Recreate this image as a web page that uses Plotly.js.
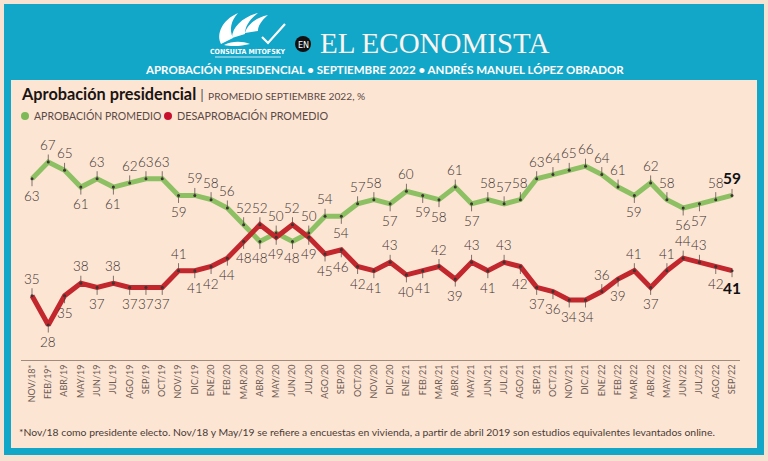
<!DOCTYPE html>
<html><head><meta charset="utf-8">
<script src="https://cdn.plot.ly/plotly-3.0.1.min.js"></script>
<style>html,body{margin:0;padding:0;background:#f7e2d2;}#chart{width:768px;height:461px;}</style>
</head><body><div id="chart"></div>
<script>
// ---- data ----
const months = ["NOV/18*","FEB/19*","ABR/19","MAY/19","JUN/19","JUL/19","AGO/19","SEP/19","OCT/19","NOV/19","DIC/19",
  "ENE/20","FEB/20","MAR/20","ABR/20","MAY/20","JUN/20","JUL/20","AGO/20","SEP/20","OCT/20","NOV/20","DIC/20",
  "ENE/21","FEB/21","MAR/21","ABR/21","MAY/21","JUN/21","JUL/21","AGO/21","SEP/21","OCT/21","NOV/21","DIC/21",
  "ENE/22","FEB/22","MAR/22","ABR/22","MAY/22","JUN/22","JUL/22","AGO/22","SEP/22"];
const aprobacion = [63,67,65,61,63,61,62,63,63,59,59,58,56,52,48,50,48,50,54,54,57,58,57,60,59,58,61,57,58,57,58,63,64,65,66,64,61,59,62,58,56,57,58,59];
const desaprobacion = [35,28,35,38,37,38,37,37,37,41,41,42,44,48,52,49,52,49,45,46,42,41,43,40,41,42,39,43,41,43,42,37,36,34,34,36,39,41,37,41,44,43,42,41];
const seriesNames = ["APROBACIÓN PROMEDIO","DESAPROBACIÓN PROMEDIO"];
// label side per point (u = above, d = below)
const aprobSide = ("duududuuud"+"uuuududuud"+"uududduduu"+"uuuuuuuduu"+"dduu").split("");
const desaSide  = ("uddududddu"+"ddddududdd"+"dduddududu"+"dddddududu"+"uudd").split("");

// ---- plot-area geometry (pixels) and helpers for decoration ----
const W = 768, H = 461;
const L = 21, R = 740, T = 130, B = 360;
const PX = x => (x - L) / (R - L), PY = y => (B - y) / (B - T);
function path(pts){
  return pts.replace(/(-?\d+\.?\d*)\s+(-?\d+\.?\d*)/g, (m,a,b)=> PX(+a).toFixed(5)+","+PY(+b).toFixed(5));
}
function rectPx(x0,y0,x1,y1,fill){
  return {type:'rect',xref:'paper',yref:'paper',x0:PX(x0),x1:PX(x1),y0:PY(y1),y1:PY(y0),fillcolor:fill,line:{width:0},layer:'below'};
}
function circlePx(cx,cy,r,fill){
  return {type:'circle',xref:'paper',yref:'paper',x0:PX(cx-r),x1:PX(cx+r),y0:PY(cy+r),y1:PY(cy-r),fillcolor:fill,line:{width:0}};
}
function textPx(x,y,text,font,xanchor){
  return {xref:'paper',yref:'paper',x:PX(x),y:PY(y),xanchor:xanchor||'center',yanchor:'middle',showarrow:false,text:text,font:font};
}

const GREEN = '#8dc063', RED = '#c1272d';
const FONT = 'Lato, "Open Sans", "DejaVu Sans", sans-serif';
const NARROW = '"Liberation Sans Narrow", "DejaVu Sans Condensed", sans-serif';

const traces = [
  {x: months, y: aprobacion, type:'scatter', mode:'lines+markers', name: seriesNames[0],
   line:{color:GREEN, width:5}, marker:{size:3, color:'#3a3330'}, hoverinfo:'skip'},
  {x: months, y: desaprobacion, type:'scatter', mode:'lines+markers', name: seriesNames[1],
   line:{color:RED, width:5}, marker:{size:3, color:'#3a3330'}, hoverinfo:'skip'}
];

const annotations = [];
function addLabels(vals, sides){
  vals.forEach((v,i)=>{
    const last = i === vals.length-1;
    const up = sides[i] === 'u';
    annotations.push({x: months[i], y: v, xref:'x', yref:'y',
      text: last ? '<b>'+v+'</b>' : String(v),
      showarrow:true, arrowhead:0, arrowwidth:0.7, arrowcolor:'#4a403c', standoff:0,
      ax:0, ay: up ? -17 : 17,
      font:{family:FONT, size: last ? 15.5 : 13.5, weight: last ? 700 : 300, color: last ? '#111' : '#3b3330'}});
  });
}
addLabels(aprobacion, aprobSide);
addLabels(desaprobacion, desaSide);

// header texts
annotations.push(textPx(435,43,'EL ECONOMISTA',{family:'"Liberation Serif", "DejaVu Serif", serif', size:29, color:'#fbf3ee'}));
annotations.push(textPx(303,44.5,'EN',{family:NARROW, size:9, color:'#ffffff'}));
annotations.push(textPx(248,51.5,'<b>CONSULTA MITOFSKY</b>',{family:NARROW, size:7, color:'#ffffff'}));
annotations.push(textPx(384,69,'<b>APROBACIÓN PRESIDENCIAL • SEPTIEMBRE 2022 • ANDRÉS MANUEL LÓPEZ OBRADOR</b>',{family:FONT, size:11.5, color:'#ffffff'}));
// chart title
annotations.push(textPx(19,93,'<b>Aprobación presidencial</b> <span style="font-size:14px;color:#555">|</span> <span style="font-size:10.2px;color:#5a4a44">PROMEDIO SEPTIEMBRE 2022, %</span>',
  {family:FONT, size:16.3, color:'#1a1412'}, 'left'));
// legend
annotations.push(textPx(32,116,seriesNames[0],{family:FONT, size:10.5, color:'#5a4a44'},'left'));
annotations.push(textPx(175,116,seriesNames[1],{family:FONT, size:10.8, color:'#5a4a44'},'left'));
// footnote
annotations.push(textPx(17,432,'*Nov/18 como presidente electo. Nov/18 y May/19 se refiere a encuestas en vivienda, a partir de abril 2019 son estudios equivalentes levantados online.',
  {family:FONT, size:10.4, color:'#4a3c35'},'left'));

const shapes = [
  rectPx(4,4,764,455,'#12a6c9'),
  rectPx(11,80,757,448,'#fde5d4'),
  circlePx(303,44,8,'#111'),
  circlePx(25,116,4,'#7db957'),
  circlePx(168,116,4,'#c8102e'),
  // logo
  {type:'path',xref:'paper',yref:'paper',fillcolor:'#ffffff',line:{width:0},
   path: path('M 221 44 C 216 34 222 20 238 13 C 231 21 229 29 233 38 Z')},
  {type:'path',xref:'paper',yref:'paper',fillcolor:'#ffffff',line:{width:0},
   path: path('M 232 38 C 232 27 243 17 258 13 C 249 20 245 27 245 34 Z')},
  {type:'path',xref:'paper',yref:'paper',fillcolor:'#ffffff',line:{width:0},
   path: path('M 245 33 C 247 25 255 18 268 15 C 261 21 258 26 258 31 Z')},
  {type:'path',xref:'paper',yref:'paper',fillcolor:'#ffffff',line:{width:0},
   path: path('M 224 45 C 232 41 242 41 250 44 C 242 46 232 47 224 45 Z')},
  {type:'path',xref:'paper',yref:'paper',line:{color:'#ffffff',width:2.2},
   path: path('M 262 37 L 268 43 L 285 24')},
  {type:'line',xref:'paper',yref:'paper',x0:PX(215),x1:PX(281),y0:PY(57),y1:PY(57),line:{color:'#ffffff',width:0.8}}
];

const layout = {
  width: W, height: H,
  margin:{l:L, r:W-R, t:T, b:H-B, pad:0},
  paper_bgcolor:'#f7e2d2', plot_bgcolor:'rgba(0,0,0,0)',
  showlegend:false,
  font:{family:FONT},
  xaxis:{type:'category', range:[-0.676, 43.49], showgrid:false, zeroline:false,
    showline:true, linecolor:'#a08a7c', linewidth:1, ticks:'', tickangle:-90,
    tickfont:{family:FONT, size:9, color:'#6d5c54'}, fixedrange:true},
  yaxis:{range:[19.63, 74.66], visible:false, fixedrange:true},
  annotations: annotations,
  shapes: shapes
};

Plotly.newPlot('chart', traces, layout, {displayModeBar:false, staticPlot:true});
</script>
</body></html>
